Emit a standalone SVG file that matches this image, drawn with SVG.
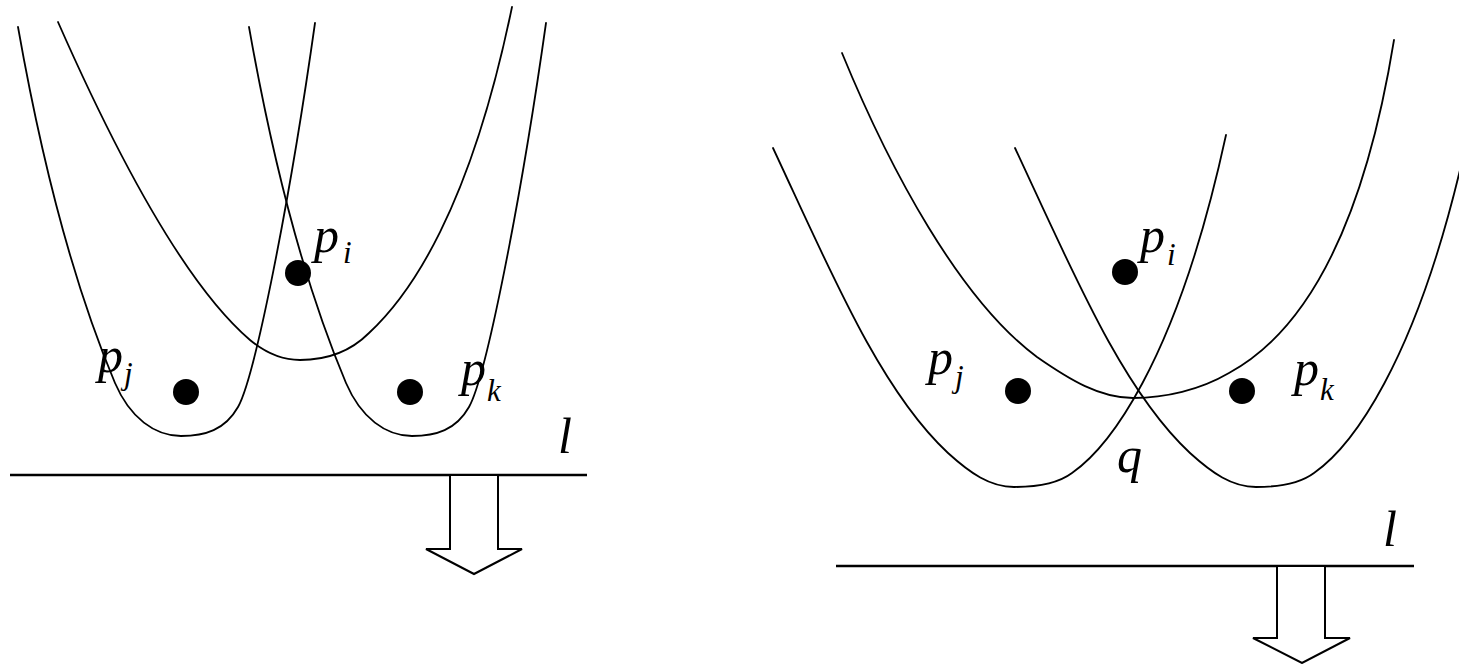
<svg xmlns="http://www.w3.org/2000/svg" width="1459" height="664" viewBox="0 0 1459 664">
<style>
.c{fill:none;stroke:#000;stroke-width:1.8;stroke-linejoin:round;stroke-linecap:round}
.ln{fill:none;stroke:#000;stroke-width:2.4}
.ar{fill:#fff;stroke:#000;stroke-width:2}
.dot{fill:#000}
</style>
<defs>
<path id="parL" d="M18,27 C45,180 80,300 115,383 C130,418 155,436 181,436 C205,436 225,430 238,407 C255,377 290,200 315,23"/>
<path id="parR" d="M773,148 C830,270 880,390 948,453 C970,473 990,487 1014,487 C1040,487 1060,482 1072,473 C1105,450 1175,370 1226,135"/>
</defs>
<rect width="1459" height="664" fill="#fff"/>
<g id="left-panel">
  <g id="left-curves">
    <use href="#parL" class="c"/>
    <use href="#parL" class="c" transform="translate(231,0)"/>
    <path class="c" d="M58,22 C110,140 180,280 250,340 C268,355 285,360 300,360 C325,360 350,352 369,333 C410,295 470,210 512,7"/>
  </g>
  <g id="left-pi"><circle class="dot" cx="298" cy="273" r="13"/><text x="314" y="252" font-family="Liberation Serif" font-style="italic" font-size="50">p</text><text x="343" y="263" font-family="Liberation Serif" font-style="italic" font-size="31">i</text></g>
  <g id="left-pj"><circle class="dot" cx="186" cy="392" r="13"/><text x="98" y="372" font-family="Liberation Serif" font-style="italic" font-size="50">p</text><text x="124" y="384" font-family="Liberation Serif" font-style="italic" font-size="31">j</text></g>
  <g id="left-pk"><circle class="dot" cx="410" cy="392" r="13"/><text x="461" y="385" font-family="Liberation Serif" font-style="italic" font-size="50">p</text><text x="487" y="401" font-family="Liberation Serif" font-style="italic" font-size="31">k</text></g>
  <g id="left-sweep">
    <line class="ln" x1="10" y1="475" x2="587" y2="475"/>
    <text x="558" y="453" font-family="Liberation Serif" font-style="italic" font-size="50">l</text>
    <polygon class="ar" points="450,475 450,549 426,549 474,574 522,549 498,549 498,475"/>
  </g>
</g>
<g id="right-panel">
  <g id="right-curves">
    <use href="#parR" class="c"/>
    <use href="#parR" class="c" transform="translate(242,0)"/>
    <path class="c" d="M842,53 C890,170 960,300 1037,357 C1070,380 1100,398 1133,398 C1165,398 1200,390 1229,373 C1275,348 1355,280 1394,40"/>
  </g>
  <g id="right-pi"><circle class="dot" cx="1125" cy="272" r="13"/><text x="1140" y="252" font-family="Liberation Serif" font-style="italic" font-size="50">p</text><text x="1167" y="265" font-family="Liberation Serif" font-style="italic" font-size="31">i</text></g>
  <g id="right-pj"><circle class="dot" cx="1018" cy="391" r="13"/><text x="928" y="374" font-family="Liberation Serif" font-style="italic" font-size="50">p</text><text x="955" y="387" font-family="Liberation Serif" font-style="italic" font-size="31">j</text></g>
  <g id="right-pk"><circle class="dot" cx="1242" cy="391" r="13"/><text x="1294" y="385" font-family="Liberation Serif" font-style="italic" font-size="50">p</text><text x="1320" y="400" font-family="Liberation Serif" font-style="italic" font-size="31">k</text></g>
  <g id="right-q"><text x="1117" y="472" font-family="Liberation Serif" font-style="italic" font-size="50">q</text></g>
  <g id="right-sweep">
    <line class="ln" x1="836" y1="566" x2="1414" y2="566"/>
    <text x="1383" y="546" font-family="Liberation Serif" font-style="italic" font-size="50">l</text>
    <polygon class="ar" points="1277,566 1277,638 1253,638 1302,663 1350,638 1325,638 1325,566"/>
  </g>
</g>
</svg>
